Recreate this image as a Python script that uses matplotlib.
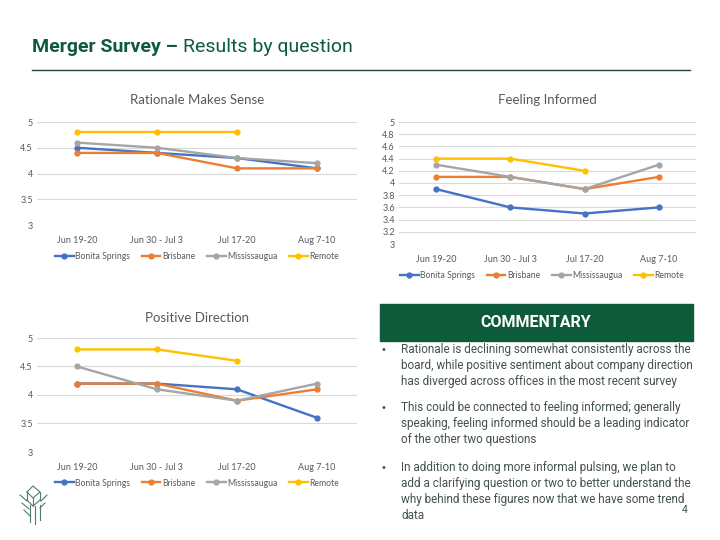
import matplotlib.pyplot as plt
import numpy as np

periods = ['Jun 19-20', 'Jun 30 - Jul 3', 'Jul 17-20', 'Aug 7-10']
offices = ['Bonita Springs', 'Brisbane', 'Mississaugua', 'Remote']
colors = ['#4472C4', '#ED7D31', '#A5A5A5', '#FFC000']

rationale = [
    [4.5, 4.4, 4.3, 4.1],
    [4.4, 4.4, 4.1, 4.1],
    [4.6, 4.5, 4.3, 4.2],
    [4.8, 4.8, 4.8, np.nan],
]
informed = [
    [3.9, 3.6, 3.5, 3.6],
    [4.1, 4.1, 3.9, 4.1],
    [4.3, 4.1, 3.9, 4.3],
    [4.4, 4.4, 4.2, np.nan],
]
direction = [
    [4.2, 4.2, 4.1, 3.6],
    [4.2, 4.2, 3.9, 4.1],
    [4.5, 4.1, 3.9, 4.2],
    [4.8, 4.8, 4.6, np.nan],
]

bullets = [
    ["Rationale is declining somewhat consistently across the",
     "board, while positive sentiment about company direction",
     "has diverged across offices in the most recent survey"],
    ["This could be connected to feeling informed; generally",
     "speaking, feeling informed should be a leading indicator",
     "of the other two questions"],
    ["In addition to doing more informal pulsing, we plan to",
     "add a clarifying question or two to better understand the",
     "why behind these figures now that we have some trend",
     "data"],
]

W, H = 720, 540
green = '#0E5B3B'
txt_grey = '#595959'
plt.rcParams['font.family'] = ['Lato', 'DejaVu Sans']

fig = plt.figure(figsize=(7.2, 5.4), dpi=100)


def px_axes(left, top, right, bottom):
    return fig.add_axes([left / W, 1 - bottom / H, (right - left) / W, (bottom - top) / H])


def draw_chart(ax, data, title, ticks, title_y, legend_x, legend_y):
    x = np.arange(len(periods))
    for vals, name, c in zip(data, offices, colors):
        ax.plot(x, vals, color=c, lw=1.7, marker='o', ms=3.5, label=name)
    ax.set_xlim(-0.5, len(periods) - 0.5)
    ax.set_ylim(3, 5)
    ax.set_yticks(ticks)
    ax.set_yticklabels([f'{t:g}' for t in ticks])
    ax.set_xticks(x)
    ax.set_xticklabels(periods)
    ax.grid(axis='y', color='#D9D9D9', lw=0.8)
    ax.set_axisbelow(True)
    for s in ax.spines.values():
        s.set_visible(False)
    ax.tick_params(length=0, labelsize=6.5, colors=txt_grey, pad=8)
    ax.tick_params(axis='y', pad=3)
    pos = ax.get_position()
    fig.text((pos.x0 + pos.x1) / 2, 1 - title_y / H, title, ha='center', va='center',
             fontsize=9.5, color=txt_grey)
    ax.legend(loc='center', bbox_to_anchor=(legend_x / W, 1 - legend_y / H),
              bbox_transform=fig.transFigure, ncol=4, frameon=False, fontsize=6.2,
              labelcolor=txt_grey, handlelength=2.2, columnspacing=1.3, handletextpad=0.2)


ax1 = px_axes(37, 122, 357, 225)
draw_chart(ax1, rationale, 'Rationale Makes Sense', [3, 3.5, 4, 4.5, 5], 100, 197, 257)

ax2 = px_axes(399, 122, 696, 244)
draw_chart(ax2, informed, 'Feeling Informed', np.round(np.arange(3, 5.01, 0.2), 1), 100, 542, 276)

ax3 = px_axes(37, 338, 357, 452)
draw_chart(ax3, direction, 'Positive Direction', [3, 3.5, 4, 4.5, 5], 318, 197, 483)

# overlay for slide decorations
deco = fig.add_axes([0, 0, 1, 1], zorder=-1)
deco.set_xlim(0, W)
deco.set_ylim(H, 0)
deco.axis('off')

t1 = deco.text(32, 47, 'Merger Survey \u2013 ', fontsize=14, fontweight='bold', color=green,
               family='Roboto', va='center')
fig.canvas.draw()
bb = t1.get_window_extent().transformed(deco.transData.inverted())
deco.text(bb.x1, 47, 'Results by question', fontsize=14, color=green, family='Roboto',
          va='center')
deco.plot([32, 690], [70, 70], color='#1F4A3A', lw=1)

deco.add_patch(plt.Rectangle((380, 304), 313, 37, color=green))
deco.text(536, 322.5, 'COMMENTARY', color='white', fontsize=11.5, fontweight='bold',
          family='Roboto', ha='center', va='center')

# commentary bullets, one text per line
para_first = [350, 408, 468]
line_gap = 15.7
for y0, lines in zip(para_first, bullets):
    deco.text(380, y0, '\u2022', fontsize=7, color='#44524C', va='center', family='DejaVu Sans')
    for i, line in enumerate(lines):
        deco.text(401, y0 + i * line_gap, line, fontsize=8.5, color='#44524C',
                  va='center', family='Roboto')
deco.text(685, 510, '4', fontsize=7.5, color='#44524C', ha='center', va='center', family='Roboto')

# little logo
lc = '#4F7F68'
logo = [
    ([27, 33, 40, 33, 27], [492, 486, 492, 498, 492]),
    ([27, 27], [492, 500]), ([40, 40], [492, 500]),
    ([27, 33, 40], [500, 506, 500]),
    ([33, 33], [498, 506]),
    ([35, 35], [506, 524]), ([30, 30], [505, 522]), ([40, 40], [505, 520]),
    ([20, 27], [495, 501]), ([22, 29], [503, 509]), ([24, 30], [510, 516]),
    ([47, 41], [495, 501]), ([45, 40], [503, 508]),
]
for xs, ys in logo:
    deco.plot(xs, ys, color=lc, lw=0.8)

fig.savefig('out.png', dpi=100, facecolor='white')
